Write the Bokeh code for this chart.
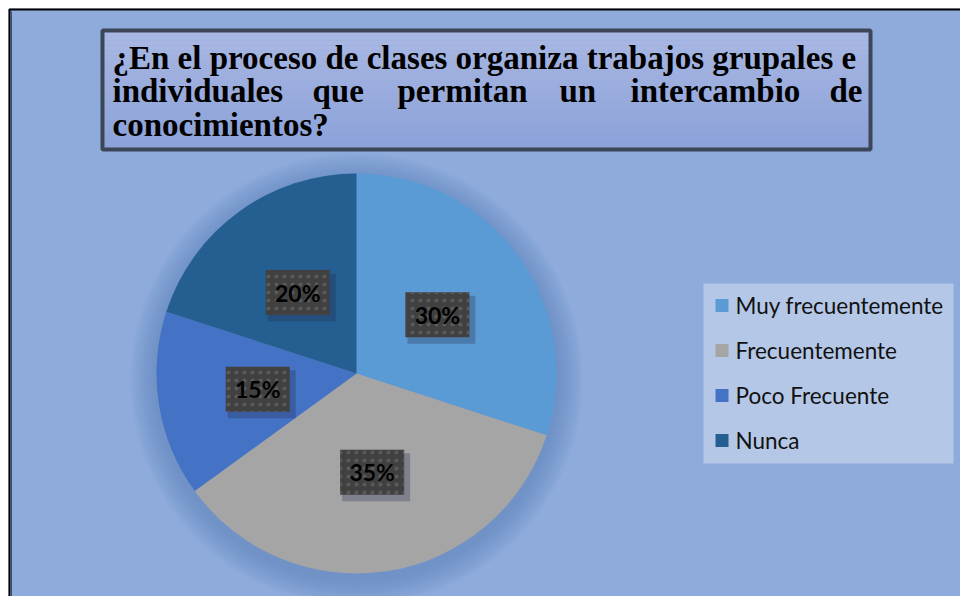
import math
from bokeh.plotting import figure
from bokeh.models import Range1d, ColumnDataSource
from bokeh.core.properties import value
from bokeh.embed import file_html
from bokeh.resources import INLINE

# ---- data ----
categories = ["Muy frecuentemente", "Frecuentemente", "Poco Frecuente", "Nunca"]
percentages = [30, 35, 15, 20]
colors = ["#5B9BD5", "#A5A5A5", "#4472C4", "#255E91"]
title_lines = [
    "¿En el proceso de clases organiza trabajos grupales e",
    "individuales que permitan un intercambio de",
    "conocimientos?",
]

W, H = 960, 596
BG = "#8EABDC"


def sy(y):
    # page-pixel y (from top) to data y
    return H - y


p = figure(width=W, height=H, output_backend="svg", toolbar_location=None,
           x_range=Range1d(0, W), y_range=Range1d(0, H), min_border=0)
p.axis.visible = False
p.grid.visible = False
p.background_fill_color = "white"
p.border_fill_color = "white"
p.outline_line_color = None

# chart area background with left/top border
p.quad(left=8, right=W, top=sy(8), bottom=0, fill_color=BG, line_color=None)
p.line([9, 9, W], [0, sy(9), sy(9)], line_color="black", line_width=2)
p.line([11, 11], [0, sy(11)], line_color="#3A4F78", line_width=1)

# ---- title box ----
bx0, bx1, by_top, by_bot = 102, 870, sy(30), sy(149)
n = 24
for i in range(n):
    t = i / (n - 1)
    r = int(0xAA + (0x8C - 0xAA) * t)
    g = int(0xB8 + (0xA1 - 0xB8) * t)
    b = int(0xE3 + (0xD9 - 0xE3) * t)
    h = (by_top - by_bot) / n
    p.quad(left=bx0, right=bx1, top=by_top - i * h, bottom=by_top - (i + 1) * h,
           fill_color="#%02x%02x%02x" % (r, g, b), line_color=None)
p.quad(left=bx0, right=bx1, top=by_top, bottom=by_bot, fill_color=None,
       line_color="#3C4658", line_width=4)

tfont = value("Liberation Serif")
TS = "33px"
DY = 11  # rendering offset of the alphabetic baseline
p.text(x=[112], y=[sy(68 - DY)], text=[title_lines[0]], text_font=tfont,
       text_font_size=TS, text_font_style="bold", text_color="black",
       text_baseline="alphabetic", text_align="left")
# justified second line
words2 = title_lines[1].split()
wx = [112, 312, 397, 559, 630, 862]
for i, w in enumerate(words2):
    align = "right" if i == len(words2) - 1 else "left"
    p.text(x=[wx[i]], y=[sy(101 - DY)], text=[w], text_font=tfont,
           text_font_size=TS, text_font_style="bold", text_color="black",
           text_baseline="alphabetic", text_align=align)
p.text(x=[112], y=[sy(135 - DY)], text=[title_lines[2]], text_font=tfont,
       text_font_size=TS, text_font_style="bold", text_color="black",
       text_baseline="alphabetic", text_align="left")

# ---- pie ----
cx, cy, R = 356, sy(373), 200
# soft shadow
for k in range(10):
    p.circle(x=[cx], y=[cy - 6], radius=R + 26 - k * 2.6,
             fill_color="#4E6DA8", fill_alpha=0.05, line_color=None)

total = sum(percentages)
starts, ends, lx, ly = [], [], [], []
cum = 0
for v in percentages:
    a0 = math.pi / 2 - 2 * math.pi * cum / total
    cum += v
    a1 = math.pi / 2 - 2 * math.pi * cum / total
    starts.append(a1)
    ends.append(a0)
    mid = (a0 + a1) / 2
    lx.append(cx + 0.5 * R * math.cos(mid))
    ly.append(cy + 0.5 * R * math.sin(mid))

src = ColumnDataSource(dict(cat=categories, val=percentages, color=colors,
                            start=starts, end=ends, lx=lx, ly=ly,
                            lab=[f"{v}%" for v in percentages],
                            shx=[x + 4 for x in lx], shy=[y - 5 for y in ly]))
wedges = p.wedge(x=cx, y=cy, radius=R, start_angle="start", end_angle="end",
                 fill_color="color", line_color=None, source=src)

# label boxes with shadow and dotted pattern
p.rect(x="shx", y="shy", width=68, height=48, fill_color="#233050",
       fill_alpha=0.3, line_color=None, source=src)
p.rect(x="lx", y="ly", width=64, height=45, fill_color="#404040",
       hatch_pattern="dot", hatch_color="#5A5A5A", hatch_scale=8,
       line_color=None, source=src)
p.text(x="lx", y="ly", text="lab", text_font=value("Lato"),
       text_font_size="23px", text_font_style="bold", text_color="black",
       text_align="center", text_baseline="middle", source=src)

# ---- legend (drawn from the category arrays) ----
p.quad(left=703, right=953, top=sy(283), bottom=sy(463),
       fill_color="#B4C7E7", line_color=None)
leg_y = [sy(305 + 45 * i) for i in range(len(categories))]
leg = ColumnDataSource(dict(cat=categories, color=colors, y=leg_y,
                            mx=[721.5] * len(categories),
                            tx=[735] * len(categories)))
p.rect(x="mx", y="y", width=13, height=13, fill_color="color",
       line_color=None, source=leg)
p.text(x="tx", y="y", text="cat", text_font=value("Lato"),
       text_font_size="22.5px", text_color="#111111", text_align="left",
       text_baseline="middle", source=leg)

open("out.html", "w").write(file_html(p, INLINE))
